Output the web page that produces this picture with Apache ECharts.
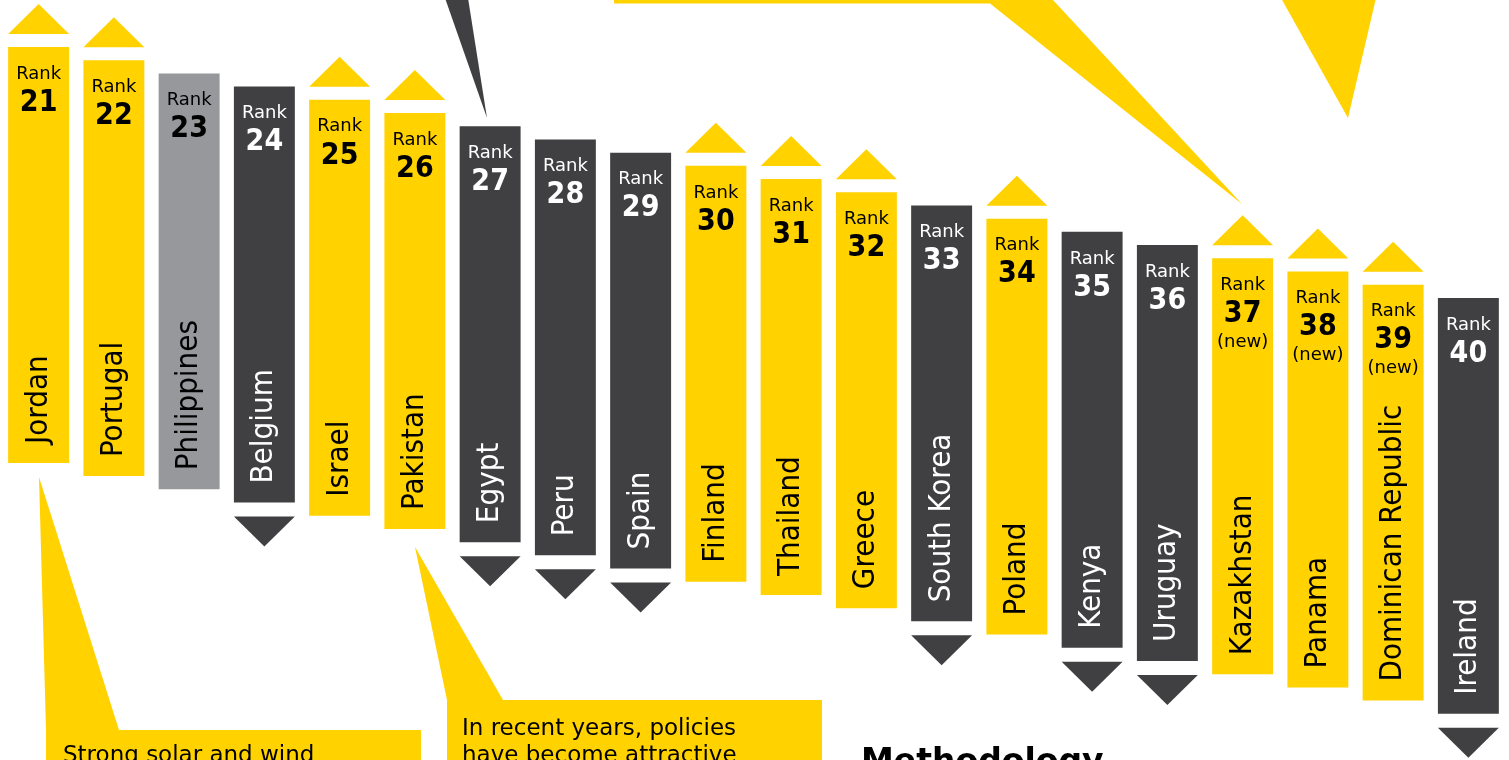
<!DOCTYPE html>
<html>
<head>
<meta charset="utf-8">
<script src="https://cdn.jsdelivr.net/npm/echarts@6/dist/echarts.min.js"></script>
<style>
  html, body { margin: 0; padding: 0; background: #ffffff; overflow: hidden; }
  #chart { width: 1509px; height: 760px; }
</style>
</head>
<body>
<div id="chart"></div>
<script>
// Renewable energy country attractiveness, positions 21–40
const countries = [
  'Jordan', 'Portugal', 'Philippines', 'Belgium', 'Israel',
  'Pakistan', 'Egypt', 'Peru', 'Spain', 'Finland',
  'Thailand', 'Greece', 'South Korea', 'Poland', 'Kenya',
  'Uruguay', 'Kazakhstan', 'Panama', 'Dominican Republic', 'Ireland'
];
const ranks = [21, 22, 23, 24, 25, 26, 27, 28, 29, 30, 31, 32, 33, 34, 35, 36, 37, 38, 39, 40];
// movement since the previous index: up, down, same, or new entry
const movement = [
  'up', 'up', 'same', 'down', 'up',
  'up', 'down', 'down', 'down', 'up',
  'up', 'up', 'down', 'up', 'down',
  'down', 'new', 'new', 'new', 'down'
];

const YELLOW = '#FFD200';
const DARK = '#404042';
const GREY = '#97989C';
const BAR_SPAN = 31.5;           // rank units covered by each column
const FONT = "'DejaVu Sans', sans-serif";
const FONT_NARROW = "'DejaVu Sans Condensed', 'DejaVu Sans', sans-serif";

function renderItem(params, api) {
  const i = params.dataIndex;
  const rank = api.value(1);
  const top = api.coord([api.value(0), rank]);
  const cx = top[0];
  const yTop = top[1];
  const yBot = api.coord([api.value(0), rank + BAR_SPAN])[1];
  const w = api.size([1, 0])[0] * 0.81;
  const move = movement[i];
  const fill = move === 'down' ? DARK : (move === 'same' ? GREY : YELLOW);
  const ink = move === 'down' ? '#ffffff' : '#000000';
  const l = cx - w / 2, r = cx + w / 2;

  const children = [
    { type: 'rect', shape: { x: l, y: yTop, width: w, height: yBot - yTop }, style: { fill: fill } },
    { type: 'text', x: cx, y: yTop + 27,
      style: { text: 'Rank', fill: ink, fontSize: 18, fontFamily: FONT,
               align: 'center', textAlign: 'center', verticalAlign: 'middle', textVerticalAlign: 'middle' } },
    { type: 'text', x: cx, y: yTop + 56,
      style: { text: String(ranks[i]), fill: ink, fontSize: 30, fontWeight: 'bold', fontFamily: FONT_NARROW,
               align: 'center', textAlign: 'center', verticalAlign: 'middle', textVerticalAlign: 'middle' } },
    { type: 'text', x: cx, y: yBot - 19, rotation: Math.PI / 2,
      style: { text: countries[i], fill: ink, fontSize: 31, fontFamily: FONT_NARROW,
               align: 'left', textAlign: 'left', verticalAlign: 'middle', textVerticalAlign: 'middle' } }
  ];
  if (move === 'new') {
    children.push({ type: 'text', x: cx, y: yTop + 84,
      style: { text: '(new)', fill: ink, fontSize: 18, fontFamily: FONT,
               align: 'center', textAlign: 'center', verticalAlign: 'middle', textVerticalAlign: 'middle' } });
  }
  if (move === 'up' || move === 'new') {
    children.push({ type: 'polygon',
      shape: { points: [[l, yTop - 13], [r, yTop - 13], [cx, yTop - 43]] }, style: { fill: YELLOW } });
  } else if (move === 'down') {
    children.push({ type: 'polygon',
      shape: { points: [[l, yBot + 14], [r, yBot + 14], [cx, yBot + 44]] }, style: { fill: DARK } });
  }
  return { type: 'group', children: children };
}

const calloutText = {
  fill: '#000000', fontSize: 23, fontFamily: FONT, lineHeight: 27,
  align: 'left', textAlign: 'left', verticalAlign: 'top', textVerticalAlign: 'top'
};

const chart = echarts.init(document.getElementById('chart'), null, { renderer: 'canvas' });
chart.setOption({
  backgroundColor: '#ffffff',
  animation: false,
  grid: { left: 1, right: 3, top: 7.4, bottom: 0 },
  xAxis: { type: 'category', data: countries, show: false },
  yAxis: { type: 'value', inverse: true, min: 18, max: 75, show: false },
  series: [{
    type: 'custom',
    clip: false,
    renderItem: renderItem,
    encode: { x: 0, y: 1 },
    data: ranks.map((r, i) => [i, r])
  }],
  graphic: [
    // pointers running in from the commentary above
    { type: 'polygon', shape: { points: [[445, -2], [468, -2], [487, 118]] }, style: { fill: DARK } },
    { type: 'polygon', shape: { points: [[614, -6], [1050, -6], [1053, 0], [1242, 204], [990, 3.5], [614, 3.5]] },
      style: { fill: YELLOW } },
    { type: 'polygon', shape: { points: [[1281, -2], [1376, -2], [1348, 118]] }, style: { fill: YELLOW } },
    // commentary boxes below
    { type: 'polygon', shape: { points: [[39, 477], [119, 730], [421, 730], [421, 790], [46, 790], [46, 730]] },
      style: { fill: YELLOW } },
    { type: 'text', x: 63, y: 743, style: Object.assign({ text: 'Strong solar and wind' }, calloutText) },
    { type: 'polygon', shape: { points: [[415, 547], [503, 700], [822, 700], [822, 790], [447, 790], [447, 700]] },
      style: { fill: YELLOW } },
    { type: 'text', x: 462, y: 715.5,
      style: Object.assign({ text: 'In recent years, policies\nhave become attractive' }, calloutText) },
    { type: 'text', x: 861, y: 763,
      style: { text: 'Methodology', fill: '#000000', fontSize: 33, fontWeight: 'bold', fontFamily: FONT,
               align: 'left', textAlign: 'left', verticalAlign: 'middle', textVerticalAlign: 'middle' } }
  ]
});
</script>
</body>
</html>
